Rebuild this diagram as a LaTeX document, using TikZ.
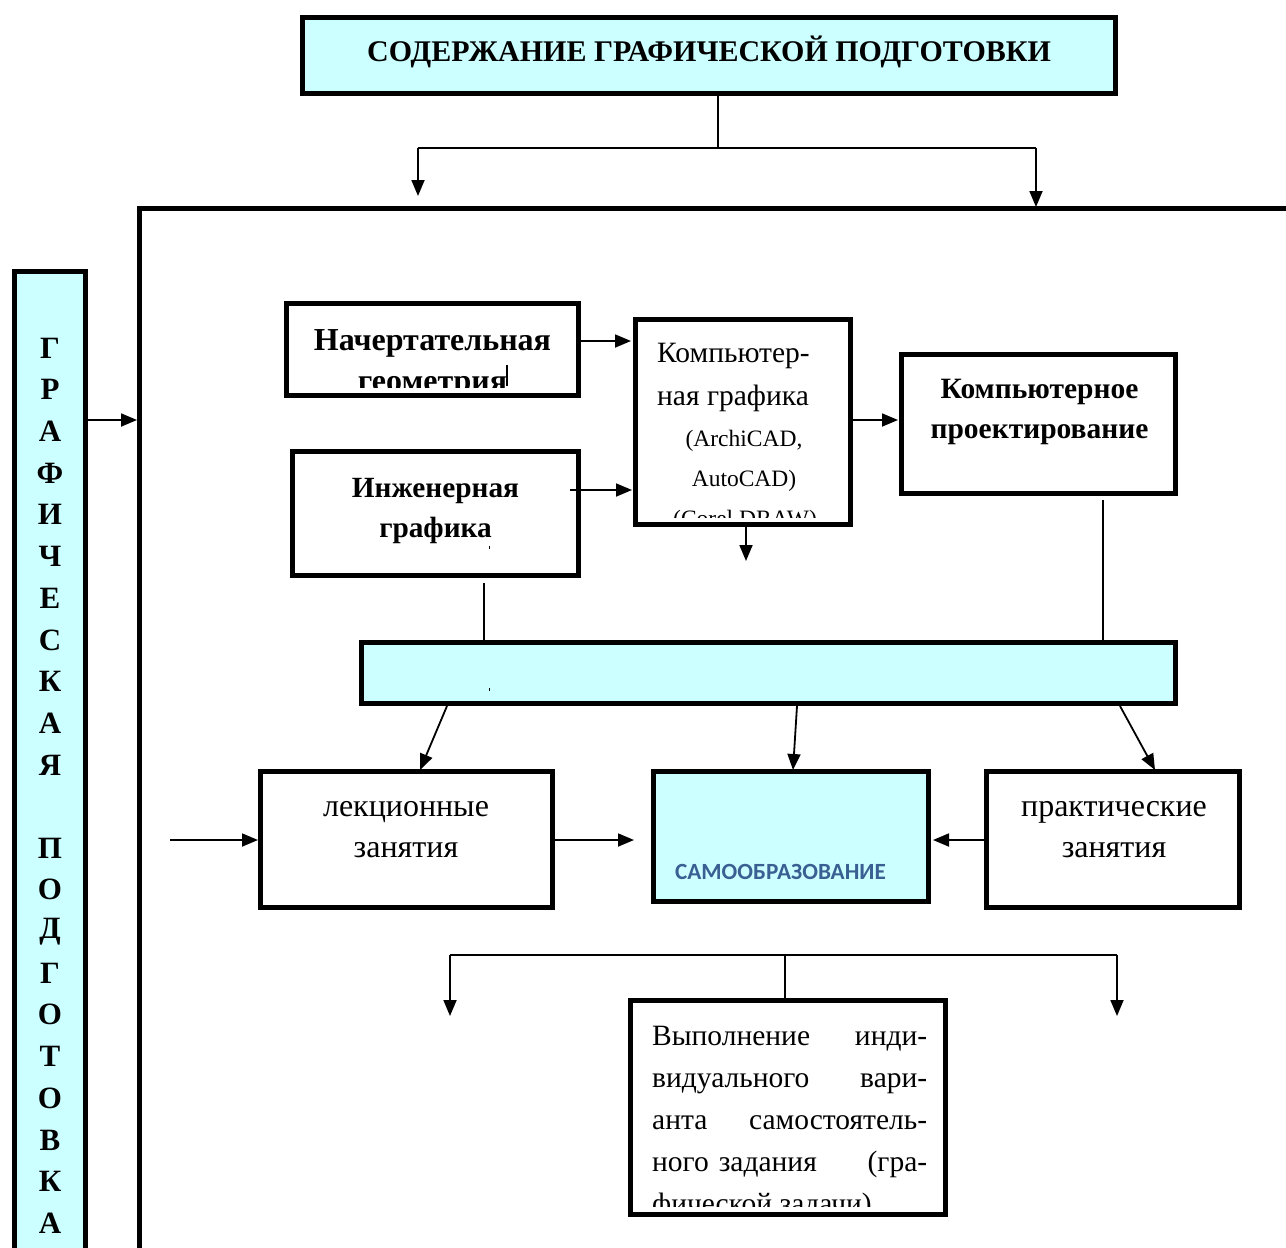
\documentclass[tikz,border=0pt]{standalone}
\usepackage{fontspec}
\setmainfont{Liberation Serif}
\newfontfamily\carl{Carlito}
\usetikzlibrary{arrows.meta}
\definecolor{cy}{HTML}{CCFFFF}
\definecolor{samoblue}{HTML}{3A5F92}
\begin{document}
\begin{tikzpicture}[x=1pt,y=-1pt,
  box/.style={draw, line width=5pt, rectangle, inner sep=0pt},
  cbox/.style={box, fill=cy},
  txt/.style={inner sep=0pt, anchor=base},
  btxt/.style={txt, font=\bfseries\fontsize{29}{30}\selectfont},
  ntxt/.style={txt, font=\fontsize{29.5}{30}\selectfont},
  ltxt/.style={txt, font=\fontsize{32}{34}\selectfont},
  stxt/.style={txt, font=\fontsize{23.5}{26}\selectfont},
  let/.style={inner sep=0pt, font=\bfseries\fontsize{31}{31}\selectfont},
  arr/.style={line width=1.8pt, -{Triangle[length=16pt,width=13pt]}},
  ln/.style={line width=1.5pt}]
\useasboundingbox (0,0) rectangle (1286,1248);

% boxes
\node[cbox, minimum width=813pt, minimum height=76pt] (top) at (709,55.5) {};
\node[btxt, font=\bfseries\fontsize{30}{30}\selectfont] (toptxt) at (709,61) {СОДЕРЖАНИЕ ГРАФИЧЕСКОЙ ПОДГОТОВКИ};

\node[cbox, minimum width=71pt, minimum height=1030pt] (left) at (50,786) {};
\foreach \ch [count=\i] in {Г,Р,А,Ф,И,Ч,Е,С,К,А,Я}
  \node[let] (la\i) at (50,{348+(\i-1)*41.7}) {\ch};
\foreach \ch [count=\i] in {П,О,Д,Г,О,Т,О,В,К,А}
  \node[let] (lb\i) at (50,{848+(\i-1)*41.7}) {\ch};

% frame
\coordinate (frBL) at (139,1260);
\coordinate (frTL) at (139,208);
\coordinate (frTR) at (1295,208);
\draw[line width=5pt] (frBL) -- (frTL) -- (frTR);

\node[box, minimum width=292pt, minimum height=92pt] (nach) at (432.5,349.5) {};
\begin{scope}
  \clip (290,306) rectangle (576,387);
  \node[btxt, font=\bfseries\fontsize{32}{30}\selectfont] (nachA) at (432.5,350) {Начертательная};
  \node[btxt, font=\bfseries\fontsize{32}{30}\selectfont] (nachB) at (432.5,391) {геометрия};
\end{scope}
\coordinate (nmA) at (507,365);
\coordinate (nmB) at (507,386);
\draw[line width=1.5pt] (nmA) -- (nmB);

\node[box, minimum width=215pt, minimum height=205pt] (komp) at (743,422) {};
\begin{scope}
  \clip (638,322) rectangle (848,517);
  \node[ntxt, anchor=base west] (kompA) at (657,362) {Компьютер-};
  \node[ntxt, anchor=base west] (kompB) at (657,405) {ная графика};
  \node[stxt] (kompC) at (744,446) {(ArchiCAD,};
  \node[stxt] (kompD) at (744,486) {AutoCAD)};
  \node[stxt] (kompE) at (745,526) {(Corel DRAW)};
\end{scope}

\node[box, minimum width=286pt, minimum height=124pt] (inzh) at (435.5,513.5) {};
\node[btxt, font=\bfseries\fontsize{29.3}{30}\selectfont] (inzhA) at (435.5,497) {Инженерная};
\node[btxt, font=\bfseries\fontsize{29.3}{30}\selectfont] (inzhB) at (435.5,537) {графика};

\node[box, minimum width=274pt, minimum height=139pt] (proekt) at (1038.5,424) {};
\node[btxt, font=\bfseries\fontsize{29.5}{30}\selectfont] (proA) at (1039.5,398) {Компьютерное};
\node[btxt, font=\bfseries\fontsize{29.5}{30}\selectfont] (proB) at (1039.5,438) {проектирование};

\node[cbox, minimum width=814pt, minimum height=61pt] (bar) at (768.5,673) {};

\node[box, minimum width=292pt, minimum height=136pt] (lek) at (406.5,839.5) {};
\node[ltxt] (lekA) at (406,816) {лекционные};
\node[ltxt] (lekB) at (406,857) {занятия};

\node[cbox, minimum width=275pt, minimum height=130pt] (samo) at (791,836.5) {};
\node[txt, font=\carl\bfseries\fontsize{23.2}{24}\selectfont, text=samoblue] (samoA) at (780.5,879) {САМООБРАЗОВАНИЕ};

\node[box, minimum width=253pt, minimum height=136pt] (prakt) at (1113,839.5) {};
\node[ltxt] (praA) at (1114,816) {практические};
\node[ltxt] (praB) at (1114,857) {занятия};

\node[box, minimum width=315pt, minimum height=214pt] (vyp) at (788,1107.5) {};
\begin{scope}
  \clip (633,1003) rectangle (943,1206);
  \node[ntxt, anchor=base west] (v1) at (652,1045) {\makebox[275pt][s]{Выполнение\hfill инди-}};
  \node[ntxt, anchor=base west] (v2) at (652,1087) {\makebox[275pt][s]{видуального\hfill вари-}};
  \node[ntxt, anchor=base west] (v3) at (652,1129) {\makebox[275pt][s]{анта\hfill самостоятель-}};
  \node[ntxt, anchor=base west] (v4) at (652,1171) {\makebox[275pt][s]{ного\hspace{10pt}задания\hfill (гра-}};
  \node[ntxt, anchor=base west] (v5) at (652,1213) {фической задачи)};
\end{scope}

% connectors: top
\coordinate (tm) at (718,148);
\coordinate (tl) at (418,148);
\coordinate (tr) at (1036,148);
\coordinate (tlE) at (418,196);
\coordinate (trE) at (1036,207);
\draw[ln] (tm |- top.south) -- (tm);
\draw[ln] (tl) -- (tr);
\draw[arr] (tl) -- (tlE);
\draw[arr] (tr) -- (trE);

% left box to frame
\coordinate (lf) at (137,420);
\draw[arr] (left.east |- lf) -- (lf);

% upper block
\draw[arr] (nach.east |- 0,341) -- ([xshift=-2pt]komp.west |- 0,341);
\draw[arr] ([xshift=-11pt]inzh.east |- 0,490) -- ([xshift=-1pt]komp.west |- 0,490);
\draw[arr] (komp.east |- 0,420) -- ([xshift=-1pt]proekt.west |- 0,420);
\coordinate (kd) at (746,561);
\draw[arr] (komp.south -| kd) -- (kd);
\draw[ln] ([yshift=-5pt]inzh.south -| 484,0) -- (bar.north -| 484,0);
\draw[ln] ([yshift=-4pt]proekt.south -| 1103,0) -- (bar.north -| 1103,0);
\fill (488.5,546) rectangle (489.5,549);
\fill (488.5,688) rectangle (489.5,691);

% bar to lower boxes
\draw[arr] (bar.south -| 447,0) -- ([yshift=-1pt]lek.north -| 420,0);
\draw[arr] (bar.south -| 797,0) -- ([yshift=-1pt]samo.north -| 793,0);
\draw[arr] (bar.south -| 1120,0) -- ([yshift=-1pt]prakt.north -| 1155,0);

% horizontal arrows
\coordinate (lin) at (170,840);
\draw[arr] (lin) -- (lek.west |- lin);
\coordinate (lout) at (634,840);
\draw[arr] (lek.east |- lout) -- (lout);
\draw[arr] (prakt.west |- 0,840) -- ([xshift=2pt]samo.east |- 0,840);

% bottom tree
\coordinate (bm) at (785,955);
\coordinate (bl) at (450,955);
\coordinate (br) at (1117,955);
\coordinate (blE) at (450,1016);
\coordinate (brE) at (1117,1016);
\draw[ln] (bl) -- (br);
\draw[ln] (bm) -- (vyp.north -| bm);
\draw[arr] (bl) -- (blE);
\draw[arr] (br) -- (brE);
\end{tikzpicture}
\end{document}
